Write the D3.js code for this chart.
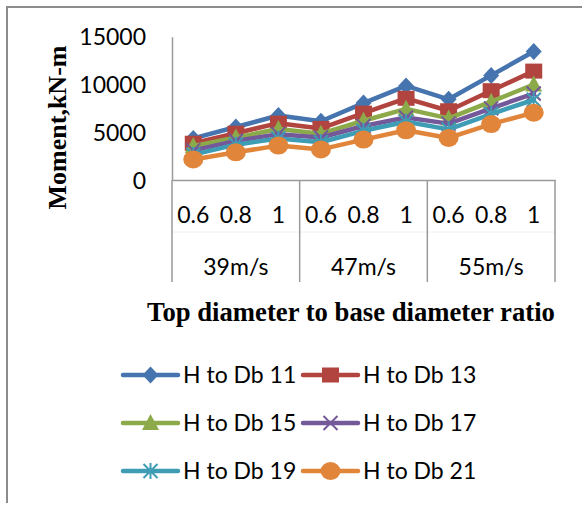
<!DOCTYPE html>
<html>
<head>
<meta charset="utf-8">
<script src="https://cdn.jsdelivr.net/npm/d3@7"></script>
<style>
  html, body { margin: 0; padding: 0; background: #fff; }
  svg { display: block; }
  .sans { font-family: Lato, "Liberation Sans", sans-serif; }
  .serif { font-family: "Liberation Serif", "Times New Roman", serif; font-weight: bold; }
</style>
</head>
<body>
<svg id="chart" width="582" height="506"></svg>
<script>
// Wind speed groups and diameter ratios on the two-level category axis
const speeds = ["39m/s", "47m/s", "55m/s"];
const ratios = ["0.6", "0.8", "1"];
const yTicks = [0, 5000, 10000, 15000];

// Moment (kN-m) per height-to-base-diameter ratio, 9 points each
const seriesNames = ["H to Db 11", "H to Db 13", "H to Db 15", "H to Db 17", "H to Db 19", "H to Db 21"];
const hdb11 = [4350, 5550, 6750, 6150, 8050, 9850, 8450, 10950, 13450];
const hdb13 = [3850, 4900, 5950, 5400, 7000, 8550, 7250, 9350, 11400];
const hdb15 = [3550, 4450, 5330, 4850, 6200, 7450, 6450, 8200, 10000];
const hdb17 = [3100, 4100, 4800, 4450, 5650, 6550, 5900, 7500, 9050];
const hdb19 = [2650, 3700, 4350, 3950, 5150, 6100, 5300, 6900, 8400];
const hdb21 = [2150, 2900, 3600, 3200, 4230, 5200, 4400, 5850, 7050];

const colors = ["#4674AE", "#B2443F", "#8DAA4B", "#73589A", "#3E9CB5", "#E0853A"];
const shapes = ["diamond", "square", "triangle", "x", "star", "circle"];

const categories = [];
speeds.forEach(s => ratios.forEach(r => categories.push(s + "|" + r)));
const allSeries = [hdb11, hdb13, hdb15, hdb17, hdb19, hdb21].map((vals, i) => ({
  name: seriesNames[i], color: colors[i], shape: shapes[i],
  points: vals.map((v, j) => ({ cat: categories[j], v }))
}));

const svg = d3.select("#chart");
const plotLeft = 172, plotRight = 555, plotTop = 36.7, plotBottom = 180;
const axisColor = "#9a9a9a";

const x = d3.scaleBand().domain(categories).range([plotLeft, plotRight]).padding(0);
const y = d3.scaleLinear().domain([0, 15000]).range([plotBottom, plotTop]);
const cx = c => x(c) + x.bandwidth() / 2;

// outer frame (left and top edges)
svg.append("path")
  .attr("d", "M7,503 L7,7 L582,7")
  .attr("fill", "none").attr("stroke", "#8c8c8c").attr("stroke-width", 2);

// value axis
const yAxis = svg.append("g")
  .attr("transform", `translate(${plotLeft},0)`)
  .call(d3.axisLeft(y).tickValues(yTicks).tickSize(0).tickSizeOuter(0).tickPadding(26).tickFormat(d3.format("d")));
yAxis.select(".domain").attr("stroke", axisColor).attr("stroke-width", 1.5);
yAxis.selectAll("text").attr("class", "sans").attr("font-size", 23).attr("fill", "#000")
  .attr("dy", "0.36em");

// category axis line and level separators
const xAxis = svg.append("g")
  .attr("transform", `translate(0,${plotBottom})`)
  .call(d3.axisBottom(x).tickSize(0).tickSizeOuter(0).tickPadding(0).tickFormat(c => c.split("|")[1]));
xAxis.select(".domain").attr("stroke", axisColor).attr("stroke-width", 1.5);
xAxis.selectAll("text").attr("class", "sans").attr("font-size", 23).attr("fill", "#000")
  .attr("y", 35).attr("dy", "0.36em");

svg.append("line")
  .attr("x1", plotLeft).attr("x2", plotRight).attr("y1", 232).attr("y2", 232)
  .attr("stroke", "#f0f0f0").attr("stroke-width", 1);

const groupEdges = speeds.map(s => x(s + "|" + ratios[0])).concat([plotRight]);
svg.selectAll("line.sep").data(groupEdges).join("line")
  .attr("class", "sep")
  .attr("x1", d => d).attr("x2", d => d)
  .attr("y1", plotBottom).attr("y2", 282)
  .attr("stroke", axisColor).attr("stroke-width", 1.5);

svg.selectAll("text.group").data(speeds).join("text")
  .attr("class", "group sans")
  .attr("x", s => (x(s + "|" + ratios[0]) + x(s + "|" + ratios[2]) + x.bandwidth()) / 2)
  .attr("y", 267).attr("dy", "0.36em")
  .attr("text-anchor", "middle").attr("font-size", 23).attr("fill", "#000")
  .text(s => s);

// axis titles
svg.append("text").attr("class", "serif")
  .attr("transform", "translate(66,127.5) rotate(-90)")
  .attr("text-anchor", "middle").attr("font-size", 26).attr("fill", "#000")
  .text("Moment,kN-m");
svg.append("text").attr("class", "serif")
  .attr("x", 351).attr("y", 321)
  .attr("text-anchor", "middle").attr("font-size", 26.7).attr("fill", "#000")
  .text("Top diameter to base diameter ratio");

// marker drawing
function drawMarker(g, shape, color) {
  if (shape === "diamond") {
    g.append("path").attr("d", "M0,-8.5 L8,0 L0,8.5 L-8,0 Z").attr("fill", color);
  } else if (shape === "square") {
    g.append("rect").attr("x", -8.5).attr("y", -7.5).attr("width", 17).attr("height", 15).attr("fill", color);
  } else if (shape === "triangle") {
    g.append("path").attr("d", "M0,-9 L8.5,7 L-8.5,7 Z").attr("fill", color);
  } else if (shape === "x") {
    g.append("path").attr("d", "M-7,-7 L7,7 M-7,7 L7,-7")
      .attr("stroke", color).attr("stroke-width", 2).attr("fill", "none");
  } else if (shape === "star") {
    g.append("path").attr("d", "M-7,-7 L7,7 M-7,7 L7,-7 M0,-8 L0,8")
      .attr("stroke", color).attr("stroke-width", 2).attr("fill", "none");
  } else if (shape === "circle") {
    g.append("ellipse").attr("rx", 10).attr("ry", 9).attr("fill", color);
  }
}

// series lines and markers
const line = d3.line().x(d => cx(d.cat)).y(d => y(d.v));
allSeries.forEach(s => {
  const g = svg.append("g");
  g.append("path").datum(s.points)
    .attr("d", line).attr("fill", "none")
    .attr("stroke", s.color).attr("stroke-width", 4.5)
    .attr("stroke-linejoin", "round").attr("stroke-linecap", "round");
  s.points.forEach(p => {
    const m = g.append("g").attr("transform", `translate(${cx(p.cat)},${y(p.v)})`);
    drawMarker(m, s.shape, s.color);
  });
});

// legend: two columns, three rows
const legendCols = [123, 303];
const legendRows = [375, 423, 471];
allSeries.forEach((s, i) => {
  const lx = legendCols[i % 2], ly = legendRows[Math.floor(i / 2)];
  const g = svg.append("g").attr("transform", `translate(${lx},${ly})`);
  g.append("line").attr("x1", 0).attr("x2", 55).attr("y1", 0).attr("y2", 0)
    .attr("stroke", s.color).attr("stroke-width", 4.5).attr("stroke-linecap", "round");
  const m = g.append("g").attr("transform", "translate(27.5,0)");
  drawMarker(m, s.shape, s.color);
  g.append("text").attr("class", "sans")
    .attr("x", 60).attr("y", 0).attr("dy", "0.36em")
    .attr("font-size", 23).attr("fill", "#000")
    .text(s.name);
});
</script>
</body>
</html>
